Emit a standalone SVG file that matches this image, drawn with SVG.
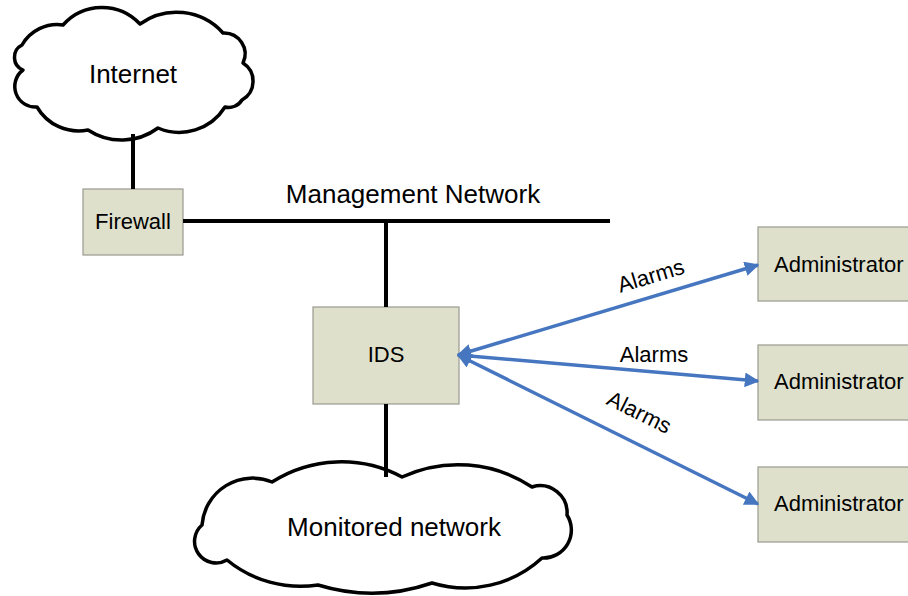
<svg xmlns="http://www.w3.org/2000/svg" width="908" height="596" viewBox="0 0 908 596">
  <style>
    text { font-family: "Liberation Sans", Arial, sans-serif; fill: #000; }
    .big { font-size: 26px; }
    .mid { font-size: 22px; }
    .box { fill: #dfe0cc; stroke: #9a9a90; stroke-width: 1.2; }
    .cloud { fill: #fff; stroke: #000; stroke-width: 3.5; stroke-linejoin: round; }
    .wire { stroke: #000; stroke-width: 4; fill: none; }
    .alarm { stroke: #4776c0; stroke-width: 3.5; fill: none; marker-start: url(#head); marker-end: url(#head); }
  </style>
  <defs>
    <marker id="head" viewBox="0 0 10 10" refX="9" refY="5" markerWidth="4.2" markerHeight="4.2" orient="auto-start-reverse" markerUnits="strokeWidth">
      <path d="M0,0 L10,5 L0,10 Z" fill="#4776c0"/>
    </marker>
  </defs>

  <rect width="908" height="596" fill="#fff"/>

  <g id="internet">
    <path class="cloud" d="M22,45 A40.6,40.6 0 0 1 63,25 A52,52 0 0 1 140,24 A62.5,62.5 0 0 1 223,33 A21,21 0 0 1 243,63 A21.5,21.5 0 0 1 242,100 A15.7,15.7 0 0 1 225,107 A54,54 0 0 1 158,128 A61,61 0 0 1 88,130 A48,48 0 0 1 37,107 A20.6,20.6 0 0 1 23,70 A13.75,13.75 0 0 1 22,45 Z"/>
    <text class="big" x="133" y="83" text-anchor="middle">Internet</text>
  </g>

  <g id="firewall">
    <rect class="box" x="83" y="189" width="100" height="66"/>
    <text class="mid" x="133" y="229" text-anchor="middle">Firewall</text>
  </g>

  <text class="big" x="413" y="203" text-anchor="middle">Management Network</text>

  <g id="ids">
    <rect class="box" x="313" y="307" width="146" height="97"/>
    <text class="mid" x="386" y="362" text-anchor="middle">IDS</text>
  </g>

  <g id="monitored">
    <path class="cloud" d="M272,482 A129,129 0 0 1 402,477 A133.5,133.5 0 0 1 532,487 A27,27 0 0 1 567,515 A28,28 0 0 1 542,558 A113.5,113.5 0 0 1 432,583 A185,185 0 0 1 318,585 A116,116 0 0 1 227,560 A21.6,21.6 0 0 1 202,525 A50.7,50.7 0 0 1 272,482 Z"/>
    <text class="big" x="394" y="536" text-anchor="middle">Monitored network</text>
  </g>

  <g id="admin1">
    <rect class="box" x="758" y="227" width="160" height="74"/>
    <text class="mid" x="774" y="272">Administrator</text>
  </g>
  <g id="admin2">
    <rect class="box" x="758" y="345" width="160" height="75"/>
    <text class="mid" x="774" y="389">Administrator</text>
  </g>
  <g id="admin3">
    <rect class="box" x="758" y="467" width="160" height="75"/>
    <text class="mid" x="774" y="511">Administrator</text>
  </g>

  <!-- wiring and alarm links, drawn over the node shapes -->
  <g id="connectors">
    <line class="wire" x1="133" y1="134" x2="133" y2="189"/>
    <line class="wire" x1="183" y1="221" x2="610" y2="221"/>
    <line class="wire" x1="386" y1="221" x2="386" y2="307"/>
    <line class="wire" x1="386" y1="404" x2="386" y2="477"/>
    <line class="alarm" x1="458" y1="355" x2="758" y2="265"/>
    <line class="alarm" x1="458" y1="355" x2="758" y2="381"/>
    <line class="alarm" x1="458" y1="355" x2="758" y2="504"/>
    <text class="mid" transform="translate(653,283) rotate(-16.6)" text-anchor="middle">Alarms</text>
    <text class="mid" x="654" y="362" text-anchor="middle">Alarms</text>
    <text class="mid" transform="translate(636,419) rotate(26.4)" text-anchor="middle">Alarms</text>
  </g>
</svg>
